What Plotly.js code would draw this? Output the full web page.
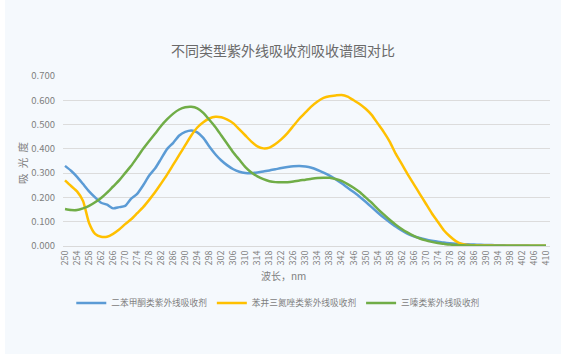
<!DOCTYPE html>
<html>
<head>
<meta charset="utf-8">
<script src="https://cdn.plot.ly/plotly-3.0.1.min.js"></script>
<style>
html,body{margin:0;padding:0;background:#ffffff;}
#chart{position:absolute;left:5px;top:0;width:556px;height:354px;}
</style>
</head>
<body>
<div id="chart"></div>
<script>
const wavelength = [250,252,254,256,258,260,262,264,266,268,270,272,274,276,278,280,282,284,286,288,290,292,294,296,298,300,302,304,306,308,310,312,314,316,318,320,322,324,326,328,330,332,334,336,338,340,342,344,346,348,350,352,354,356,358,360,362,364,366,368,370,372,374,376,378,380,382,384,386,388,390,392,394,396,398,400,402,404,406,408,410];

const benzophenone = [0.330,0.310,0.285,0.255,0.225,0.200,0.178,0.170,0.155,0.160,0.165,0.195,0.215,0.250,0.290,0.320,0.360,0.400,0.425,0.455,0.470,0.476,0.468,0.445,0.410,0.378,0.352,0.332,0.316,0.306,0.301,0.300,0.303,0.307,0.311,0.316,0.321,0.325,0.328,0.329,0.327,0.322,0.313,0.302,0.290,0.275,0.258,0.240,0.222,0.203,0.182,0.160,0.138,0.117,0.098,0.080,0.064,0.050,0.040,0.033,0.027,0.022,0.018,0.014,0.011,0.009,0.008,0.007,0.006,0.005,0.004,0.004,0.003,0.003,0.002,0.002,0.002,0.002,0.001,0.001,0.001];

const benzotriazole = [0.270,0.247,0.225,0.185,0.095,0.050,0.038,0.038,0.050,0.068,0.090,0.110,0.135,0.160,0.190,0.222,0.258,0.295,0.335,0.375,0.415,0.455,0.488,0.510,0.525,0.532,0.530,0.520,0.505,0.480,0.455,0.430,0.410,0.402,0.405,0.420,0.440,0.465,0.495,0.525,0.550,0.575,0.595,0.610,0.617,0.620,0.622,0.615,0.600,0.585,0.565,0.540,0.505,0.470,0.430,0.380,0.338,0.295,0.255,0.215,0.175,0.135,0.100,0.065,0.040,0.020,0.008,0.004,0.003,0.002,0.002,0.002,0.001,0.001,0.001,0.001,0.001,0.001,0.001,0.001,0.001];

const triazine = [0.152,0.148,0.148,0.155,0.165,0.180,0.198,0.220,0.245,0.270,0.300,0.330,0.365,0.400,0.432,0.463,0.495,0.522,0.545,0.562,0.571,0.573,0.567,0.548,0.520,0.490,0.455,0.420,0.385,0.355,0.325,0.303,0.287,0.275,0.267,0.263,0.262,0.263,0.266,0.270,0.273,0.277,0.280,0.281,0.281,0.276,0.268,0.255,0.240,0.222,0.200,0.178,0.153,0.130,0.108,0.088,0.070,0.055,0.042,0.031,0.023,0.017,0.012,0.009,0.006,0.004,0.003,0.002,0.002,0.001,0.001,0.001,0.001,0.001,0.001,0.001,0.001,0.001,0.001,0.001,0.001];

const seriesNames = ['二苯甲酮类紫外线吸收剂','苯并三氮唑类紫外线吸收剂','三嗪类紫外线吸收剂'];
const seriesColors = ['#5B9BD5','#FFC000','#70AD47'];
const xTickVals = [250,254,258,262,266,270,274,278,282,286,290,294,298,302,306,310,314,318,322,326,330,334,338,342,346,350,354,358,362,366,370,374,378,382,386,390,394,398,402,406,410];
const yTickVals = [0,0.1,0.2,0.3,0.4,0.5,0.6,0.7];

const FONT = '"Noto Sans CJK SC", "Noto Sans", sans-serif';
const seriesData = [benzophenone, benzotriazole, triazine];

const traces = seriesData.map((ys, i) => ({
  x: wavelength,
  y: ys,
  type: 'scatter',
  mode: 'lines',
  name: seriesNames[i],
  line: {color: seriesColors[i], width: 2.5, shape: 'spline', smoothing: 0.6}
}));

const layout = {
  width: 556,
  height: 354,
  paper_bgcolor: '#F5F9FD',
  plot_bgcolor: '#F5F9FD',
  margin: {l: 58, r: 11, t: 76, b: 108},
  font: {family: FONT, color: '#808080', size: 9},
  title: {
    text: '不同类型紫外线吸收剂吸收谱图对比',
    font: {family: FONT, size: 14, color: '#6A6A6A'},
    x: 0.5, xref: 'container', xanchor: 'center',
    y: 1 - 51/354, yref: 'container', yanchor: 'middle'
  },
  xaxis: {
    range: [249.33, 411.33],
    tickmode: 'array',
    tickvals: xTickVals,
    ticktext: xTickVals.map(String),
    tickangle: -90,
    tickfont: {family: FONT, size: 9, color: '#808080'},
    showgrid: false,
    zeroline: false,
    showline: true,
    linecolor: '#D9D9D9',
    linewidth: 1,
    ticks: ''
  },
  yaxis: {
    range: [0, 0.7],
    tickmode: 'array',
    tickvals: yTickVals,
    ticktext: yTickVals.map(v => v.toFixed(3)),
    tickfont: {family: FONT, size: 9.5, color: '#808080'},
    showgrid: true,
    gridcolor: '#DCDCDC',
    gridwidth: 1,
    zeroline: false,
    showline: false,
    ticks: '',
    ticklabelstandoff: 7
  },
  showlegend: true,
  legend: {
    orientation: 'h',
    x: 0.017, xanchor: 'left',
    y: (246-303)/170, yanchor: 'middle',
    font: {family: FONT, size: 8.7, color: '#808080'},
    bgcolor: 'rgba(0,0,0,0)',
    itemwidth: 30
  },
  annotations: [
    {
      text: '吸\u2002光\u2002度', xref: 'paper', yref: 'paper',
      x: (22-63)/487, y: (246-163)/170, xanchor: 'center', yanchor: 'middle',
      textangle: -90, showarrow: false,
      font: {family: FONT, size: 10.5, color: '#808080'}
    },
    {
      text: '波长，nm', xref: 'paper', yref: 'paper',
      x: (283-63)/487, y: (246-275)/170, xanchor: 'center', yanchor: 'middle',
      showarrow: false,
      font: {family: FONT, size: 10, color: '#808080'}
    }
  ]
};

Plotly.newPlot('chart', traces, layout, {displayModeBar: false, staticPlot: true});
</script>
</body>
</html>
